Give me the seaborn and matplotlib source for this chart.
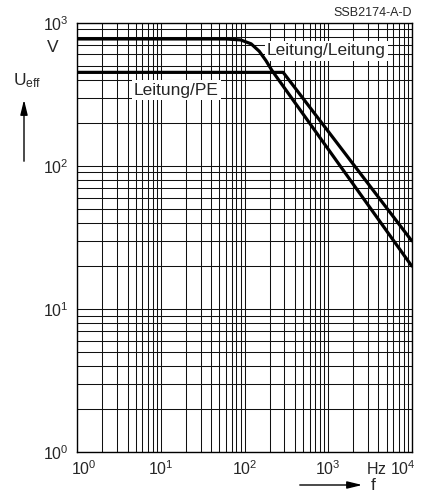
import numpy as np
import pandas as pd
import matplotlib
matplotlib.use('Agg')
import matplotlib.pyplot as plt
import matplotlib.transforms as mtransforms
import seaborn as sns

# ==========================================
# Data
# ==========================================
f_ll = [1, 60, 90, 120, 150, 180, 214, 10000]
u_ll = [770, 770, 758, 712, 632, 545, 462, 20]

f_pe = [1, 290, 10000]
u_pe = [450, 450, 30]

x_ticks = [1, 10, 100, 1000, 10000]
x_labels = [r'$\mathregular{10^0}$', r'$\mathregular{10^1}$', r'$\mathregular{10^2}$',
            r'$\mathregular{10^3}$', r'Hz $\mathregular{10^4}$']
y_ticks = [1, 10, 100, 1000]
y_labels = [r'$\mathregular{10^0}$', r'$\mathregular{10^1}$', r'$\mathregular{10^2}$',
            r'$\mathregular{10^3}$']

sns.set_style('white')
plt.rcParams.update({
    'font.family': ['Liberation Sans', 'DejaVu Sans'],
    'mathtext.fontset': 'custom',
    'mathtext.rm': 'Liberation Sans',
    'mathtext.it': 'Liberation Sans:italic',
})

df = pd.concat([
    pd.DataFrame({'f': f_ll, 'U': u_ll, 'curve': 'Leitung/Leitung'}),
    pd.DataFrame({'f': f_pe, 'U': u_pe, 'curve': 'Leitung/PE'}),
])

fig = plt.figure(figsize=(4.30, 5.01), dpi=100)
ax = fig.add_axes([77.3 / 430, 1 - 452.3 / 501, (411.7 - 77.3) / 430, (452.3 - 22.7) / 501])

sns.lineplot(data=df, x='f', y='U', hue='curve', palette=['black', 'black'],
             lw=2.3, sort=False, legend=False, ax=ax, zorder=5)

ax.set_xscale('log')
ax.set_yscale('log')
ax.set_xlim(1, 10000)
ax.set_ylim(1, 1000)
ax.grid(True, which='both', color='#111111', lw=0.75)
ax.set_axisbelow(True)
ax.tick_params(which='both', length=0)
ax.set_xticks(x_ticks)
ax.set_xticklabels(x_labels, fontsize=11.5)
ax.set_yticks(y_ticks)
ax.set_yticklabels(y_labels, fontsize=11.5)
ax.tick_params(axis='x', pad=5)
ax.tick_params(axis='y', pad=6)
ax.xaxis.set_minor_formatter(plt.NullFormatter())
ax.yaxis.set_minor_formatter(plt.NullFormatter())
ax.set_xlabel('')
ax.set_ylabel('')
for s in ax.spines.values():
    s.set_color('black')
    s.set_linewidth(1.0)

# first and last x labels are pushed inwards, as in the original sheet
xl = ax.get_xticklabels()
xl[0].set_ha('left')
xl[0].set_transform(xl[0].get_transform() +
                    mtransforms.ScaledTranslation(-6 / 100, 0, fig.dpi_scale_trans))
xl[-1].set_ha('right')
xl[-1].set_transform(xl[-1].get_transform() +
                     mtransforms.ScaledTranslation(4 / 100, 0, fig.dpi_scale_trans))

# curve labels with white boxes over the grid
box = dict(facecolor='white', edgecolor='none', pad=1.5)
ax.text(267 / 430, 1 - 51 / 501, 'Leitung/Leitung', transform=fig.transFigure,
        fontsize=12.5, va='center', ha='left', bbox=box, zorder=4)
ax.text(134 / 430, 1 - 90 / 501, 'Leitung/PE', transform=fig.transFigure,
        fontsize=12.5, va='center', ha='left', bbox=box, zorder=4)

# axis annotations
fig.text(53 / 430, 1 - 48 / 501, 'V', fontsize=12.5, ha='center', va='center')
fig.text(27 / 430, 1 - 81 / 501, r'U$_{\mathregular{eff}}$', fontsize=12.5,
         ha='center', va='center')
ax.annotate('', xy=(24 / 430, 1 - 97 / 501), xytext=(24 / 430, 1 - 164 / 501),
            xycoords='figure fraction', textcoords='figure fraction',
            arrowprops=dict(arrowstyle='-|>,head_length=0.9,head_width=0.22',
                            color='black', lw=1.0))
ax.annotate('', xy=(365 / 430, 1 - 485 / 501), xytext=(297 / 430, 1 - 485 / 501),
            xycoords='figure fraction', textcoords='figure fraction',
            arrowprops=dict(arrowstyle='-|>,head_length=0.9,head_width=0.22',
                            color='black', lw=1.0))
fig.text(373 / 430, 1 - 486 / 501, 'f', fontsize=12.5, ha='center', va='center')
fig.text(412 / 430, 1 - 13 / 501, 'SSB2174-A-D', fontsize=9, ha='right', va='center')

fig.savefig('out.png', dpi=100)
